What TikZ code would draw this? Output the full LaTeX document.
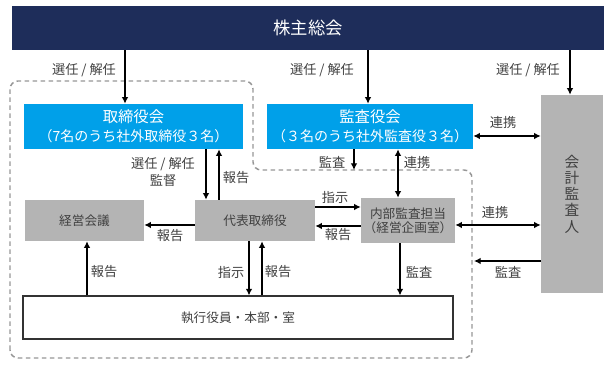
\documentclass[tikz,border=0pt]{standalone}
\usepackage{fontspec}
\setmainfont{Noto Sans CJK JP}
\usetikzlibrary{arrows.meta}
\definecolor{navy}{RGB}{30,45,90}
\definecolor{skyblue}{RGB}{0,160,233}
\definecolor{boxgray}{RGB}{180,180,180}
\definecolor{dashgray}{RGB}{150,150,150}
\definecolor{textgray}{RGB}{64,64,64}
\tikzset{
  arr/.style={line width=1.1pt, -{Latex[length=5pt,width=5pt]}},
  darr/.style={line width=1.1pt, {Latex[length=5pt,width=5pt]}-{Latex[length=5pt,width=5pt]}},
  lbl/.style={font=\fontsize{9.9}{12.75}\selectfont, text=textgray, inner sep=0pt, align=center},
  bluebox/.style={fill=skyblue, text=white, align=center, inner sep=0pt, font=\fontsize{10.5}{14.25}\selectfont},
  graybox/.style={fill=boxgray, text=textgray, align=center, inner sep=0pt, font=\fontsize{9.5}{10.5}\selectfont},
}
\begin{document}
\begin{tikzpicture}[x=0.75pt, y=-0.75pt]
	\useasboundingbox (0,0) rectangle (611,366);
	% dashed area of the executive side
	\draw[dashgray, line width=1.1pt, dash pattern=on 3.5pt off 2.5pt, rounded corners=6pt]
		(10,358) -- (10,81) -- (253,81) -- (253,170) -- (472,170) -- (472,358) -- cycle;
	% boxes
	\node[fill=navy, text=white, minimum width=444pt, minimum height=33pt, font=\fontsize{13}{15}\selectfont] (soukai) at (308,28) {株主総会};
	\node[bluebox, minimum width=164.25pt, minimum height=33.75pt] (torishimari) at (133.5,126.5) {{\fontsize{11.5}{14.25}\selectfont 取締役会}\\（7名のうち社外取締役３名）};
	\node[bluebox, minimum width=154.5pt, minimum height=33.75pt] (kansayaku) at (370,126.5) {{\fontsize{11.5}{14.25}\selectfont 監査役会}\\（３名のうち社外監査役３名）};
	\node[graybox, minimum width=46.5pt, minimum height=148.5pt, font=\fontsize{11}{12.2}\selectfont] (kaikei) at (572,194) {会\\計\\監\\査\\人};
	\node[graybox, minimum width=89.25pt, minimum height=30.75pt] (keiei) at (84.5,220.5) {経営会議};
	\node[graybox, minimum width=90pt, minimum height=30.75pt] (daihyo) at (255,220.5) {代表取締役};
	\node[graybox, minimum width=70.5pt, minimum height=33.75pt] (naibu) at (408,220.5) {内部監査担当\\（経営企画室）};
	\node[draw=black!80, line width=0.8pt, fill=white, text=textgray, minimum width=322.5pt, minimum height=32.25pt, font=\fontsize{9.5}{11}\selectfont] (shikko) at (238,317.5) {執行役員・本部・室};
	\coordinate (kansa-in) at (354,170);
	\coordinate (audit-in) at (474,261);
	% connectors
	\draw[arr] (soukai.south -| 125,0) -- (torishimari.north -| 125,0);
	\draw[arr] (soukai.south -| 368,0) -- (kansayaku.north -| 368,0);
	\draw[arr] (soukai.south -| 570,0) -- (kaikei.north -| 570,0);
	\draw[arr] (torishimari.south -| 206,0) -- (daihyo.north -| 206,0);
	\draw[arr] (daihyo.north -| 219,0) -- (torishimari.south -| 219,0);
	\draw[arr] (daihyo.west |- 0,225) -- (keiei.east |- 0,225);
	\draw[arr] (daihyo.east |- 0,207) -- (naibu.west |- 0,207);
	\draw[arr] (naibu.west |- 0,226) -- (daihyo.east |- 0,226);
	\draw[arr] (kansayaku.south -| kansa-in) -- (kansa-in);
	\draw[darr] (kansayaku.south -| 398,0) -- (naibu.north -| 398,0);
	\draw[darr] (kansayaku.east |- 0,136) -- (kaikei.west |- 0,136);
	\draw[darr] (naibu.east |- 0,225) -- (kaikei.west |- 0,225);
	\draw[arr] (kaikei.west |- audit-in) -- (audit-in);
	\draw[arr] (shikko.north -| 87,0) -- (keiei.south -| 87,0);
	\draw[arr] (daihyo.south -| 249,0) -- (shikko.north -| 249,0);
	\draw[arr] (shikko.north -| 262,0) -- (daihyo.south -| 262,0);
	\draw[arr] (naibu.south -| 400,0) -- (shikko.north -| 400,0);
	% labels
	\node[lbl] (l-sen1) at (84,70) {選任 / 解任};
	\node[lbl] (l-sen2) at (322,70) {選任 / 解任};
	\node[lbl] (l-sen3) at (528,70) {選任 / 解任};
	\node[lbl] (l-kantoku) at (163,172) {選任 / 解任\\監督};
	\node[lbl] (l-hou1) at (236,178) {報告};
	\node[lbl] (l-hou2) at (170,236) {報告};
	\node[lbl] (l-shiji1) at (335,197) {指示};
	\node[lbl] (l-hou3) at (338,235) {報告};
	\node[lbl] (l-kan1) at (332,162) {監査};
	\node[lbl] (l-ren1) at (417,163) {連携};
	\node[lbl] (l-ren2) at (503,123) {連携};
	\node[lbl] (l-ren3) at (495,213) {連携};
	\node[lbl] (l-kan2) at (508,272) {監査};
	\node[lbl] (l-hou4) at (104,272) {報告};
	\node[lbl] (l-shiji2) at (231,272) {指示};
	\node[lbl] (l-hou5) at (278,272) {報告};
	\node[lbl] (l-kan3) at (419,272) {監査};
\end{tikzpicture}
\end{document}
